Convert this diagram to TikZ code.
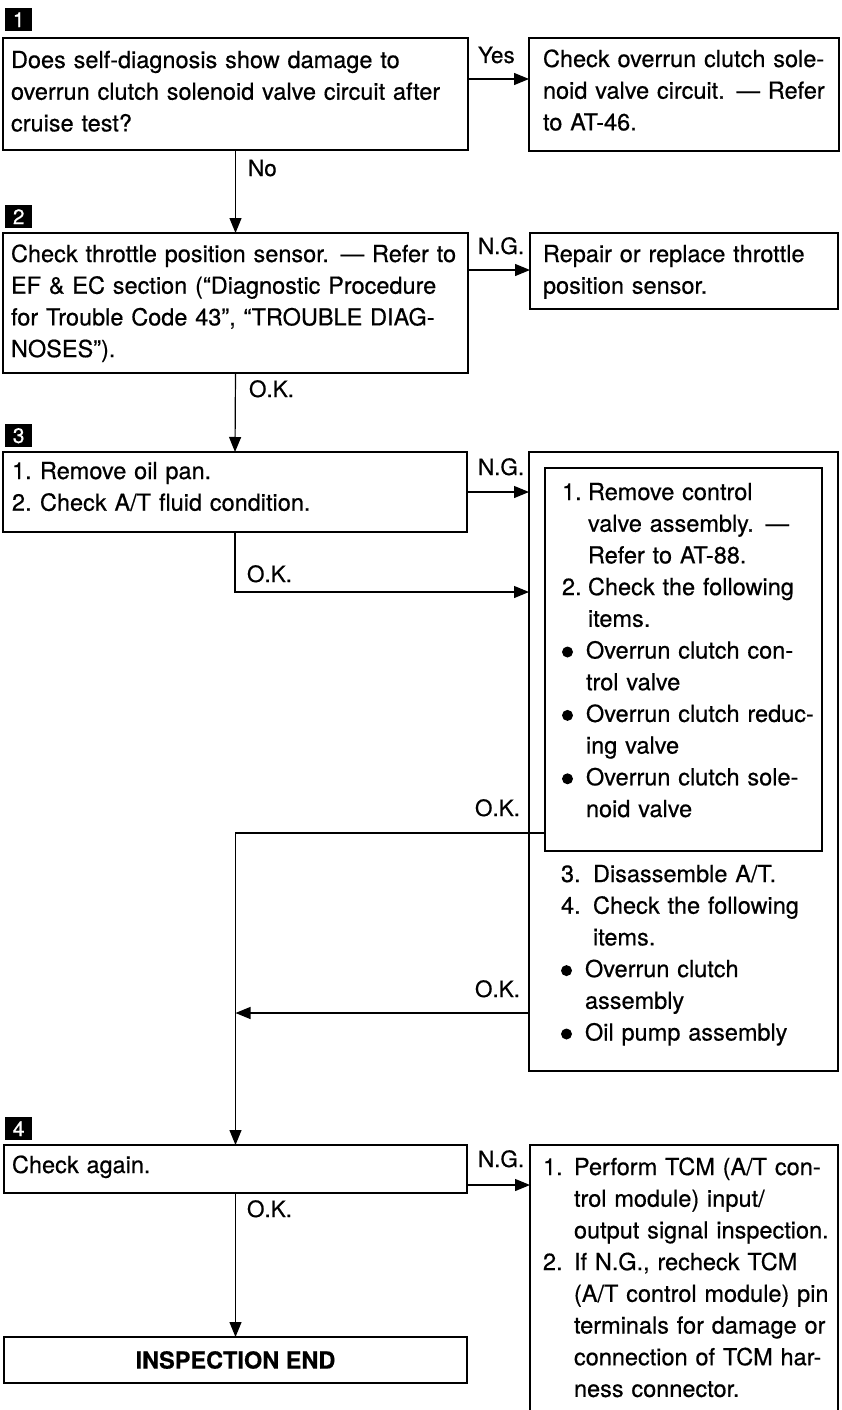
\documentclass[tikz,border=0pt]{standalone}
\usepackage{fontspec}
\setmainfont{TeX Gyre Heros}[FakeBold=0.5]
\usetikzlibrary{arrows.meta}

\newcommand\fs{\fontsize{23.5pt}{31.7pt}\selectfont}
% list helpers: number box, hanging indent, bullet box
\newcommand\num[2]{\makebox[#1][l]{#2}}
\newcommand\hang[1]{\hspace*{#1}}
\newcommand\bdot{\makebox[24pt][l]{\tikz[baseline=0pt,x=1pt,y=1pt]\fill (5.5,6.5) circle[radius=5.5];}}

\tikzset{
  box/.style={draw, line width=1.4pt, rectangle, inner sep=0pt, outer sep=0pt, anchor=north west},
  txt/.style={inner sep=0pt, outer sep=0pt, anchor=base west, align=left, text width=#1, font=\fs},
  txt/.default=460pt,
  lbl/.style={inner sep=0pt, outer sep=0pt, anchor=base west, font=\fontsize{22.5pt}{27pt}\selectfont},
  lblr/.style={lbl, anchor=base east},
  arr/.style={line width=1.2pt, -{Triangle[length=15pt,width=12pt]}},
  badge/.style={fill=black, text=white, minimum width=27pt, minimum height=23pt,
    inner sep=0pt, anchor=north west, font=\fontsize{21pt}{21pt}\selectfont}
}

\begin{document}
\begin{tikzpicture}[x=1pt,y=-1pt]
\useasboundingbox (0,0) rectangle (841,1410);
\fill[white] (0,0) rectangle (841,1410);

% ---- step 1 ----
\node[badge] (s1) at (5,8) {1};
\node[box, minimum width=465pt, minimum height=112pt] (b1) at (3,38) {};
\node[txt] (t1) at (11,68) {Does self-diagnosis show damage to\\overrun clutch solenoid valve circuit after\\cruise test?};
\node[box, minimum width=310pt, minimum height=113pt] (yes) at (529,38) {};
\node[txt=300pt] (tyes) at (543,67) {Check overrun clutch sole-\\noid valve circuit. — Refer\\to AT-46.};

% ---- step 2 ----
\node[badge] (s2) at (5,205) {2};
\node[box, minimum width=465pt, minimum height=140pt] (b2) at (3,233) {};
\node[txt] (t2) at (11,262) {Check throttle position sensor. — Refer to\\EF \& EC section (“Diagnostic Procedure\\for Trouble Code 43”, “TROUBLE DIAG-\\NOSES”).};
\node[box, minimum width=308pt, minimum height=76pt] (ng2) at (530,233) {};
\node[txt=300pt] (tng2) at (543,262) {Repair or replace throttle\\position sensor.};

% ---- step 3 ----
\node[badge] (s3) at (5,424) {3};
\node[box, minimum width=464pt, minimum height=80pt] (b3) at (3,452) {};
\node[txt] (t3) at (12,479) {\num{28pt}{1.}Remove oil pan.\\\num{28pt}{2.}Check A/T fluid condition.};
\node[box, minimum width=309pt, minimum height=619pt] (big) at (529,452) {};
\node[box, minimum width=277pt, minimum height=383pt] (inner) at (545,468) {};
\node[txt=275pt] (tin) at (562,500) {\num{26pt}{1.}Remove control\\
  \hang{26pt}valve assembly. —\\
  \hang{26pt}Refer to AT-88.\\
  \num{26pt}{2.}Check the following\\
  \hang{26pt}items.\\
  \bdot Overrun clutch con-\\
  \hang{24pt}trol valve\\
  \bdot Overrun clutch reduc-\\
  \hang{24pt}ing valve\\
  \bdot Overrun clutch sole-\\
  \hang{24pt}noid valve};
\node[txt=275pt] (tout) at (561,882) {\num{32pt}{3.}Disassemble A/T.\\
  \num{32pt}{4.}Check the following\\
  \hang{32pt}items.\\
  \bdot Overrun clutch\\
  \hang{24pt}assembly\\
  \bdot Oil pump assembly};

% ---- step 4 ----
\node[badge] (s4) at (5,1117) {4};
\node[box, minimum width=463pt, minimum height=48pt] (b4) at (4,1145) {};
\node[txt] (t4) at (12,1173) {Check again.};
\node[box, minimum width=308pt, minimum height=285pt] (ng4) at (530,1145) {};
\node[txt=300pt] (tng4) at (543,1175) {\num{31pt}{1.}Perform TCM (A/T con-\\
  \hang{31pt}trol module) input/\\
  \hang{31pt}output signal inspection.\\
  \num{31pt}{2.}If N.G., recheck TCM\\
  \hang{31pt}(A/T control module) pin\\
  \hang{31pt}terminals for damage or\\
  \hang{31pt}connection of TCM har-\\
  \hang{31pt}ness connector.};
\node[box, minimum width=463pt, minimum height=46pt, font=\fs\bfseries] (end) at (4,1337) {INSPECTION END};

% ---- connectors ----
\draw[arr] ([yshift=-41pt]b1.north east) -- ([yshift=-41pt]b1.north east -| yes.west);
\draw[arr] (b1.south) -- (b2.north);
\draw[arr] ([yshift=-37pt]b2.north east) -- ([yshift=-37pt]b2.north east -| ng2.west);
\draw[arr] (b2.south) -- (b3.north);
\draw[arr] ([yshift=-40pt]b3.north east) -- ([yshift=-40pt]b3.north east -| big.west);
\draw[arr] (b3.south) |- ([yshift=-140pt]big.north west);
\draw[arr] ([yshift=18pt]inner.south west) -| (b4.north);
\draw[arr] ([yshift=58pt]big.south west) -- ([yshift=58pt]big.south west -| b4.north);
\draw[arr] ([yshift=-40pt]b4.north east) -- ([yshift=-40pt]b4.north east -| ng4.west);
\draw[arr] (b4.south) -- (end.north);

% ---- connector labels ----
\node[lbl] (lyes) at (478,63) {Yes};
\node[lbl] (lno) at (248,176) {No};
\node[lbl] (lng2) at (478,254) {N.G.};
\node[lbl] (lok2) at (249,397) {O.K.};
\node[lbl] (lng3) at (478,475) {N.G.};
\node[lbl] (lok3) at (247,582) {O.K.};
\node[lblr] (lokin) at (520,816) {O.K.};
\node[lblr] (lokout) at (520,997) {O.K.};
\node[lbl] (lng4) at (478,1167) {N.G.};
\node[lbl] (lok4) at (247,1217) {O.K.};
\end{tikzpicture}
\end{document}
